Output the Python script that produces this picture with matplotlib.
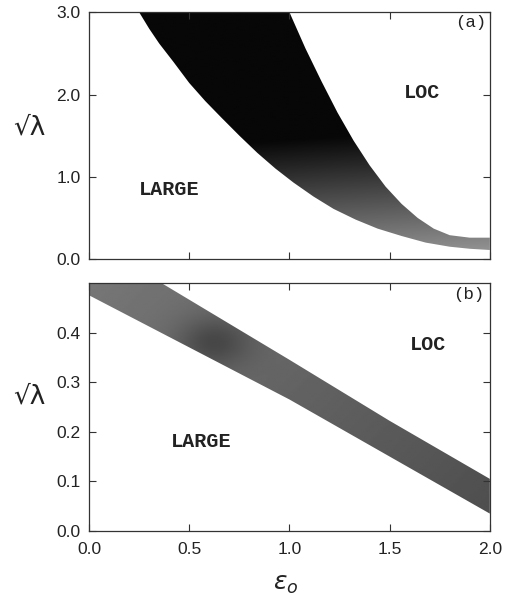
import matplotlib
matplotlib.use('Agg')
import matplotlib.pyplot as plt
import numpy as np

# Panel (a): band edges
a_lo_x = [0.25, 0.30, 0.35, 0.42, 0.50, 0.58, 0.66, 0.75, 0.84, 0.93, 1.02,
          1.12, 1.22, 1.33, 1.44, 1.56, 1.68, 1.80, 1.90, 2.00]
a_lo_y = [3.00, 2.80, 2.62, 2.40, 2.14, 1.92, 1.72, 1.50, 1.29, 1.10, 0.93,
          0.76, 0.61, 0.48, 0.37, 0.28, 0.20, 0.15, 0.125, 0.11]
a_up_x = [1.00, 1.08, 1.16, 1.24, 1.32, 1.40, 1.48, 1.56, 1.64, 1.72, 1.80, 1.90, 2.00]
a_up_y = [3.00, 2.56, 2.16, 1.78, 1.44, 1.14, 0.88, 0.67, 0.50, 0.37, 0.29, 0.26, 0.26]

# Panel (b): band edges
b_lo_x = [0.0, 0.5, 1.0, 1.5, 2.0]
b_lo_y = [0.475, 0.37, 0.265, 0.15, 0.035]
b_up_x = [0.0, 0.36, 1.0, 1.5, 2.0]
b_up_y = [0.50, 0.50, 0.345, 0.222, 0.105]

xticks = [0.0, 0.5, 1.0, 1.5, 2.0]
xticklabels = ['0.0', '0.5', '1.0', '1.5', '2.0']
a_yticks = [0.0, 1.0, 2.0, 3.0]
a_yticklabels = ['0.0', '1.0', '2.0', '3.0']
b_yticks = [0.0, 0.1, 0.2, 0.3, 0.4]
b_yticklabels = ['0.0', '0.1', '0.2', '0.3', '0.4']

tick_font = 'Liberation Sans'
label_font = ['Liberation Mono', 'DejaVu Sans Mono']


def band(ax, lo_x, lo_y, up_x, up_y, ymax, shade):
    px = np.concatenate([lo_x, up_x[::-1]])
    py = np.concatenate([lo_y, up_y[::-1]])
    poly, = ax.fill(px, py, facecolor='none', edgecolor='none')
    gx, gy = np.meshgrid(np.linspace(0, 2, 200), np.linspace(0, ymax, 200))
    im = ax.imshow(shade(gx, gy), extent=[0, 2, 0, ymax], origin='lower',
                   cmap='gray', vmin=0, vmax=1, aspect='auto',
                   interpolation='bilinear')
    im.set_clip_path(poly)


def style(ax):
    for s in ax.spines.values():
        s.set_linewidth(0.9)
        s.set_color('#333333')
    ax.tick_params(direction='in', length=5, width=0.8, top=True, right=True,
                   colors='#333333', labelsize=12.5, pad=6)
    ax.tick_params(axis='x', pad=8)
    for t in ax.get_xticklabels() + ax.get_yticklabels():
        t.set_fontfamily(tick_font)
        t.set_color('#222222')


fig = plt.figure(figsize=(5.06, 6.11), dpi=100, facecolor='white')

# Subplot (a)
ax1 = fig.add_axes([0.176, 0.576, 0.792, 0.404])
band(ax1, a_lo_x, a_lo_y, a_up_x, a_up_y, 3.0,
     lambda x, y: np.clip(0.58 - 0.36 * y + 0.06 * (x - 1.5), 0.03, 0.58))
ax1.set_xlim(0, 2)
ax1.set_ylim(0, 3.0)
ax1.set_xticks(xticks)
ax1.set_xticklabels([])
ax1.set_yticks(a_yticks)
ax1.set_yticklabels(a_yticklabels)
style(ax1)
ax1.set_ylabel('√λ', rotation=0, fontsize=19, family='DejaVu Sans', color='#222222')
ax1.yaxis.set_label_coords(-0.148, 0.48)
ax1.text(0.40, 0.84, 'LARGE', fontsize=14.5, fontweight='bold', family=label_font,
         ha='center', va='center', color='#222222')
ax1.text(1.66, 2.02, 'LOC', fontsize=14.5, fontweight='bold', family=label_font,
         ha='center', va='center', color='#222222')
ax1.text(1.905, 2.87, '(a)', fontsize=12.5, family=label_font,
         ha='center', va='center', color='#222222')

# Subplot (b)
ax2 = fig.add_axes([0.176, 0.131, 0.792, 0.406])
band(ax2, b_lo_x, b_lo_y, b_up_x, b_up_y, 0.5,
     lambda x, y: 0.44 - 0.05 * x + 0.12 * (y - 0.3)
     - 0.14 * np.exp(-((x - 0.62) / 0.18) ** 2 - ((y - 0.38) / 0.05) ** 2))
ax2.set_xlim(0, 2)
ax2.set_ylim(0, 0.5)
ax2.set_xticks(xticks)
ax2.set_xticklabels(xticklabels)
ax2.set_yticks(b_yticks)
ax2.set_yticklabels(b_yticklabels)
style(ax2)
ax2.set_ylabel('√λ', rotation=0, fontsize=19, family='DejaVu Sans', color='#222222')
ax2.yaxis.set_label_coords(-0.148, 0.49)
ax2.set_xlabel(r'$\epsilon_o$', fontsize=18, color='#222222')
ax2.xaxis.set_label_coords(0.49, -0.165)
ax2.text(0.56, 0.18, 'LARGE', fontsize=14.5, fontweight='bold', family=label_font,
         ha='center', va='center', color='#222222')
ax2.text(1.69, 0.375, 'LOC', fontsize=14.5, fontweight='bold', family=label_font,
         ha='center', va='center', color='#222222')
ax2.text(1.895, 0.477, '(b)', fontsize=12.5, family=label_font,
         ha='center', va='center', color='#222222')

plt.savefig('out.png', dpi=100, facecolor='white')
